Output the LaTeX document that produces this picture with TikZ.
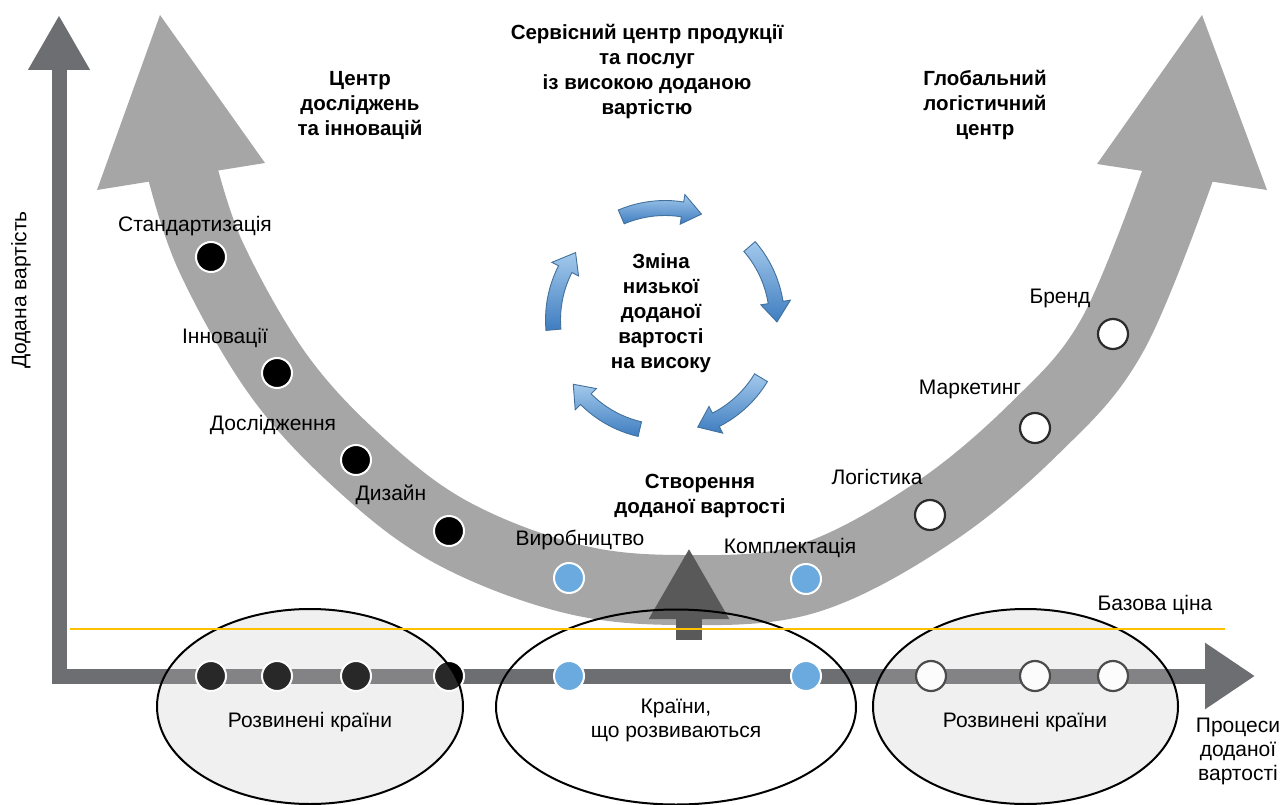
\documentclass[tikz,border=0pt]{standalone}
\usepackage{fontspec}
\setmainfont{Liberation Sans}
\usetikzlibrary{arrows.meta}
\definecolor{axisgray}{HTML}{6D6E71}
\definecolor{bandgray}{HTML}{A6A6A6}
\definecolor{stemgray}{HTML}{595959}
\definecolor{dotblue}{HTML}{6AAADE}
\definecolor{basegold}{HTML}{FFC000}
\definecolor{cyclight}{HTML}{A3C9EC}
\definecolor{cycdark}{HTML}{3F7DC0}
\definecolor{cycedge}{HTML}{41719C}
\definecolor{ellfill}{HTML}{F0F0F0}
\definecolor{ringgray}{HTML}{2B2B2B}

\begin{document}
\begin{tikzpicture}[x=1pt,y=-1pt,
    lbl/.style={font=\fontsize{21}{24}\selectfont, inner sep=0pt, align=center},
    hdr/.style={lbl, font=\fontsize{20.5}{25}\selectfont\bfseries},
    blackdot/.style={circle, fill=black, draw=white, line width=2pt, minimum size=30pt, inner sep=0pt},
    bluedot/.style={blackdot, fill=dotblue},
    whitedot/.style={blackdot, fill=white, draw=ringgray, line width=2.2pt},
    axis/.style={axisgray, line width=15pt, -{Triangle[width=58pt,length=55pt]}},
    cycarrow/.style={draw=cycedge, line width=0.9pt, top color=cyclight, bottom color=cycdark}]
    \useasboundingbox (0,0) rectangle (1282,805);

    \coordinate (origin) at (59,684);
    \coordinate (ytip) at (59,15);
    \coordinate (xstart) at (52,676);
    \coordinate (xtip) at (1255,676);
    \coordinate (ellL) at (310,706.5);
    \coordinate (ellM) at (676,707);
    \coordinate (ellR) at (1025.5,706.5);

    \fill[ellfill] (ellL) ellipse [x radius=153, y radius=97.5];
    \fill[ellfill] (ellR) ellipse [x radius=152.5, y radius=97.5];

    \draw[axis] (origin) -- (ytip);
    \draw[axis, -{Triangle[width=63pt,length=50pt]}] (xstart) -- (xtip);

    % value chain band
    \draw[bandgray, line width=70pt] plot[smooth, tension=0.6] coordinates {(182,170) (211,257) (277,373) (356,460) (449,531) (569,578) (681,590) (806,579) (930,515) (1035,428) (1113,334) (1181,166)};
    \fill[bandgray] (97,190) -- (160,15) -- (265,163) -- cycle;
    \fill[bandgray] (1097,164) -- (1202,15) -- (1267,190) -- cycle;

    \draw[stemgray, line width=26pt, -{Triangle[width=75pt,length=71pt]}] (689,640) -- (689,548);

    \foreach \px/\nm in {211/a,277/b,356/c,449/d}
        \node[blackdot] (bar\nm) at (\px,676) {};
    \foreach \px/\nm in {569/e,806/f}
        \node[bluedot] (bar\nm) at (\px,676) {};
    \foreach \px/\nm in {931/g,1035/h,1113/i}
        \node[whitedot] (bar\nm) at (\px,676) {};

    \fill[ellfill, fill opacity=0.17] (ellL) ellipse [x radius=153, y radius=97.5];
    \fill[ellfill, fill opacity=0.17] (ellR) ellipse [x radius=152.5, y radius=97.5];
    \draw[line width=2pt] (ellL) ellipse [x radius=153, y radius=97.5];
    \draw[line width=2pt] (ellM) ellipse [x radius=180, y radius=97.5];
    \draw[line width=2pt] (ellR) ellipse [x radius=152.5, y radius=97.5];

    \node[blackdot] (stdzdot) at (211,257) {};
    \node[blackdot] (innovdot) at (277,373) {};
    \node[blackdot] (reschdot) at (356,460) {};
    \node[blackdot] (dsgndot) at (449,531) {};
    \node[bluedot] (proddot) at (569,578) {};
    \node[bluedot] (compldot) at (806,579) {};
    \node[whitedot] (logidot) at (930,515) {};
    \node[whitedot] (mrktdot) at (1035,428) {};
    \node[whitedot] (branddot) at (1113,334) {};

    \node[lbl] (stdz) at (195,226) {Стандартизація};
    \node[lbl] (innov) at (225,338) {Інновації};
    \node[lbl] (resch) at (273,425) {Дослідження};
    \node[lbl] (dsgn) at (391,495) {Дизайн};
    \node[lbl] (prod) at (580,540) {Виробництво};
    \node[lbl] (compl) at (790,548) {Комплектація};
    \node[lbl] (logi) at (877,477) {Логістика};
    \node[lbl] (mrkt) at (970,389) {Маркетинг};
    \node[lbl] (brand) at (1060,298) {Бренд};
    \node[lbl] (price) at (1155,605) {Базова ціна};

    \node[hdr] (hrd) at (360,105) {Центр\\досліджень\\та інновацій};
    \node[hdr] (hsrv) at (647,72) {Сервісний центр продукції\\та послуг\\із високою доданою\\вартістю};
    \node[hdr] (hlog) at (985,105) {Глобальний\\логістичний\\центр};
    \node[hdr] (hcre) at (700,496) {Створення\\доданої вартості};

    % cycle of five arrows
    \begin{scope}[shift={(665,320)}]
        \foreach \c in {92,20,-52,-124,164}{
            \pgfmathsetmacro\s{-1*(\c)-21}
            \pgfmathsetmacro\e{-1*(\c)+21}
            \pgfmathsetmacro\h{\e-10}
            \draw[cycarrow] plot[domain=\s:\h, samples=12] (\x:119.5) -- (\h:127) -- (\e:112) -- (\h:97) -- plot[domain=\h:\s, samples=12] (\x:104.5) -- cycle;
        }
    \end{scope}
    \node[hdr] (hcyc) at (661,313) {Зміна\\низької\\доданої\\вартості\\на високу};

    \node[lbl, rotate=90] (ylbl) at (21,290) {Додана вартість};
    \node[lbl] (xlbl) at (1238,751) {Процеси\\доданої\\вартості};
    \node[lbl] (ctryl) at (310,722) {Розвинені країни};
    \node[lbl] (ctrym) at (676,720) {Країни,\\що розвиваються};
    \node[lbl] (ctryr) at (1025,722) {Розвинені країни};

    \coordinate (baseL) at (70,629);
    \coordinate (baseR) at (1225,629);
    \draw[basegold, line width=2pt] (baseL) -- (baseR);
\end{tikzpicture}
\end{document}
